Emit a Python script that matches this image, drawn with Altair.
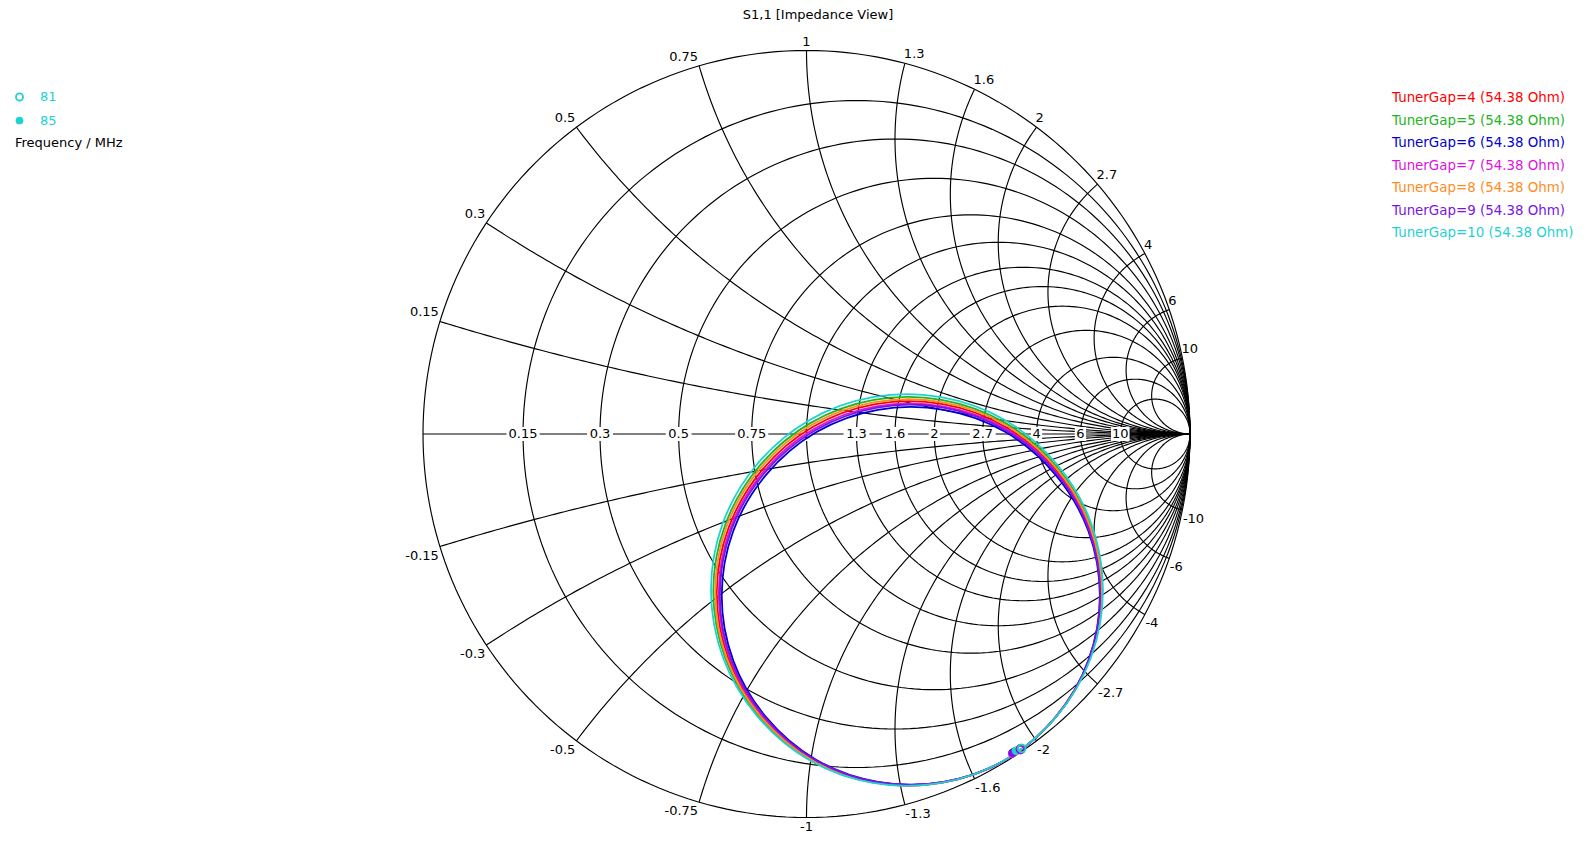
import altair as alt
import numpy as np
import pandas as pd

# ---------------- data ----------------
title_text = "S1,1 [Impedance View]"
grid_values = [0.15, 0.3, 0.5, 0.75, 1, 1.3, 1.6, 2, 2.7, 4, 6, 10]
grid_labels = ["0.15", "0.3", "0.5", "0.75", "1", "1.3", "1.6", "2", "2.7", "4", "6", "10"]

trace_names = ["TunerGap=4 (54.38 Ohm)", "TunerGap=5 (54.38 Ohm)", "TunerGap=6 (54.38 Ohm)",
               "TunerGap=7 (54.38 Ohm)", "TunerGap=8 (54.38 Ohm)", "TunerGap=9 (54.38 Ohm)",
               "TunerGap=10 (54.38 Ohm)"]
trace_colors = ["#ff0000", "#22b422", "#0000d2", "#dc14dc", "#ff8c1e", "#7814e6", "#1ed2d2"]

tg4_re = [0.768, 0.738, 0.651, 0.518, 0.355, 0.180, 0.017, -0.116, -0.203, -0.234, -0.203, -0.116, 0.017, 0.180, 0.355, 0.518, 0.651, 0.738]
tg4_im = [-0.415, -0.244, -0.094, 0.019, 0.078, 0.078, 0.019, -0.094, -0.244, -0.415, -0.587, -0.737, -0.850, -0.909, -0.909, -0.850, -0.737, -0.587]
tg5_re = [0.771, 0.740, 0.652, 0.518, 0.352, 0.176, 0.011, -0.124, -0.212, -0.243, -0.212, -0.124, 0.011, 0.176, 0.352, 0.518, 0.652, 0.740]
tg5_im = [-0.410, -0.237, -0.085, 0.029, 0.089, 0.089, 0.029, -0.085, -0.237, -0.410, -0.584, -0.736, -0.850, -0.909, -0.909, -0.850, -0.736, -0.584]
tg6_re = [0.765, 0.735, 0.649, 0.519, 0.358, 0.186, 0.026, -0.105, -0.191, -0.221, -0.191, -0.105, 0.026, 0.186, 0.358, 0.519, 0.649, 0.735]
tg6_im = [-0.422, -0.253, -0.106, 0.005, 0.063, 0.063, 0.005, -0.106, -0.253, -0.422, -0.591, -0.739, -0.850, -0.907, -0.907, -0.850, -0.739, -0.591]
tg7_re = [0.767, 0.737, 0.650, 0.519, 0.356, 0.182, 0.021, -0.112, -0.199, -0.229, -0.199, -0.112, 0.021, 0.182, 0.356, 0.519, 0.650, 0.737]
tg7_im = [-0.418, -0.247, -0.098, 0.014, 0.072, 0.072, 0.014, -0.098, -0.247, -0.418, -0.588, -0.738, -0.850, -0.908, -0.908, -0.850, -0.738, -0.588]
tg8_re = [0.770, 0.739, 0.651, 0.518, 0.354, 0.178, 0.014, -0.120, -0.208, -0.238, -0.208, -0.120, 0.014, 0.178, 0.354, 0.518, 0.651, 0.739]
tg8_im = [-0.413, -0.240, -0.089, 0.024, 0.083, 0.083, 0.024, -0.089, -0.240, -0.413, -0.585, -0.736, -0.850, -0.909, -0.909, -0.850, -0.736, -0.585]
tg9_re = [0.766, 0.736, 0.650, 0.519, 0.357, 0.184, 0.023, -0.109, -0.196, -0.226, -0.196, -0.109, 0.023, 0.184, 0.357, 0.519, 0.650, 0.736]
tg9_im = [-0.420, -0.250, -0.101, 0.010, 0.069, 0.069, 0.010, -0.101, -0.250, -0.420, -0.589, -0.738, -0.850, -0.908, -0.908, -0.850, -0.738, -0.589]
tg10_re = [0.773, 0.742, 0.653, 0.518, 0.351, 0.173, 0.007, -0.129, -0.218, -0.249, -0.218, -0.129, 0.007, 0.173, 0.351, 0.518, 0.653, 0.742]
tg10_im = [-0.407, -0.232, -0.079, 0.036, 0.096, 0.096, 0.036, -0.079, -0.232, -0.407, -0.582, -0.735, -0.850, -0.910, -0.910, -0.850, -0.735, -0.582]

trace_re = [tg4_re, tg5_re, tg6_re, tg7_re, tg8_re, tg9_re, tg10_re]
trace_im = [tg4_im, tg5_im, tg6_im, tg7_im, tg8_im, tg9_im, tg10_im]

marker_labels = ["81", "85"]
m81_re = [0.559, 0.560, 0.558, 0.558, 0.560, 0.559, 0.561]
m81_im = [-0.821, -0.820, -0.822, -0.823, -0.821, -0.822, -0.820]
m85_re = [0.540, 0.543, 0.537, 0.536, 0.542, 0.538, 0.546]
m85_im = [-0.830, -0.828, -0.832, -0.834, -0.829, -0.831, -0.826]
freq_title = "Frequency / MHz"

# ---------------- layout ----------------
W, H = 1588, 847
CX, CY, R = 806.5, 434.0, 383.5
FONT = "DejaVu Sans"
FS = 13

xsc = alt.Scale(domain=[(0 - CX) / R, (W - CX) / R], nice=False, zero=False)
ysc = alt.Scale(domain=[(CY - H) / R, CY / R], nice=False, zero=False)
X = alt.X("gx:Q", scale=xsc, axis=None)
Y = alt.Y("gy:Q", scale=ysc, axis=None)

# grid lines (built from tick values)
rows = []
gid = [0]


def add(xs, ys):
    for k, (a, b) in enumerate(zip(xs, ys)):
        rows.append((gid[0], k, float(a), float(b)))
    gid[0] += 1


t = np.linspace(0, 2 * np.pi, 241)
add(np.cos(t), np.sin(t))
add([-1, 1], [0, 0])
for r in grid_values:
    c = r / (1 + r)
    rad = 1 / (1 + r)
    add(c + rad * np.cos(t), rad * np.sin(t))
for v in grid_values:
    g0 = (1j * v - 1) / (1j * v + 1)
    phi0 = np.arctan2(g0.imag - 1 / v, g0.real - 1) % (2 * np.pi)
    ph = np.linspace(phi0, 1.5 * np.pi, 160)
    xs = 1 + np.cos(ph) / v
    ys = 1 / v + np.sin(ph) / v
    add(xs, ys)
    add(xs, -ys)
grid_df = pd.DataFrame(rows, columns=["gid", "k", "gx", "gy"])

grid = alt.Chart(grid_df).mark_line(color="black", strokeWidth=1.15).encode(
    x=X, y=Y, detail="gid:N", order="k:Q")

# real-axis labels with white boxes
ax_df = pd.DataFrame({
    "lab": grid_labels,
    "gx": [(r - 1) / (r + 1) for r in grid_values],
    "gy": [0.0] * len(grid_values),
})
ax_df["hw"] = (ax_df["lab"].str.len() * 7.3 + 4) / 2 / R
ax_df["x1"] = ax_df["gx"] - ax_df["hw"]
ax_df["x2"] = ax_df["gx"] + ax_df["hw"]
ax_df["y1"] = -7 / R
ax_df["y2"] = 7 / R
boxes = alt.Chart(ax_df).mark_rect(color="white").encode(
    x=alt.X("x1:Q", scale=xsc, axis=None), x2="x2:Q",
    y=alt.Y("y1:Q", scale=ysc, axis=None), y2="y2:Q")
ax_text = alt.Chart(ax_df).mark_text(font=FONT, fontSize=FS, color="black",
                                     align="center", baseline="middle").encode(
    x=X, y=Y, text="lab:N")

# rim labels
rim_rows = []
for v, lab in zip(grid_values, grid_labels):
    for s in (1, -1):
        g0 = (1j * s * v - 1) / (1j * s * v + 1)
        side = "c" if v == 1 else ("l" if v < 1 else "r")
        rim_rows.append((lab if s > 0 else "-" + lab, g0.real, g0.imag, side, s))
rim_df = pd.DataFrame(rim_rows, columns=["lab", "gx", "gy", "side", "sgn"])
rim_layers = []
for side, align, dxp, dxn in (("l", "right", -1, -1), ("c", "center", 0, 0), ("r", "left", -1, 0.5)):
    for sgn, base, dy, dx in ((1, "bottom", -2, dxp), (-1, "top", 3, dxn)):
        sub = rim_df[(rim_df.side == side) & (rim_df.sgn == sgn)]
        rim_layers.append(alt.Chart(sub).mark_text(
            font=FONT, fontSize=FS, color="black", align=align, baseline=base,
            dx=dx, dy=dy).encode(x=X, y=Y, text="lab:N"))

# traces
trace_layers = []
for name, col, re_, im_ in zip(trace_names, trace_colors, trace_re, trace_im):
    df = pd.DataFrame({"gx": re_, "gy": im_, "k": list(range(len(re_)))})
    trace_layers.append(alt.Chart(df).mark_line(
        color=col, strokeWidth=1.8, interpolate="cardinal-closed").encode(
        x=X, y=Y, order="k:Q"))

mk_df = pd.DataFrame({
    "col": trace_colors * 2,
    "gx": m85_re + m81_re,
    "gy": m85_im + m81_im,
    "f": ["85"] * 7 + ["81"] * 7,
})
mk_filled = alt.Chart(mk_df[mk_df.f == "85"]).mark_point(
    shape="circle", filled=True, size=70, opacity=1).encode(
    x=X, y=Y, color=alt.Color("col:N", scale=None))
mk_open = alt.Chart(mk_df[mk_df.f == "81"]).mark_point(
    shape="circle", filled=False, size=60, strokeWidth=1.8, opacity=1).encode(
    x=X, y=Y, color=alt.Color("col:N", scale=None))

# title
title = alt.Chart(pd.DataFrame({"t": [title_text]})).mark_text(
    font=FONT, fontSize=FS, color="black", align="center", baseline="middle").encode(
    x=alt.value(818), y=alt.value(15), text="t:N")

# right legend
leg_df = pd.DataFrame({"name": trace_names, "col": trace_colors,
                       "i": list(range(len(trace_names)))})
leg_df["py"] = 98 + leg_df["i"] * 22.5
legend_r = alt.Chart(leg_df).mark_text(
    font=FONT, fontSize=13.4, align="left", baseline="middle").encode(
    x=alt.value(1392), y=alt.Y("py:Q", scale=None), text="name:N",
    color=alt.Color("col:N", scale=None))

# left legend
ll_df = pd.DataFrame({"lab": marker_labels, "i": [0, 1]})
ll_df["py"] = 97 + ll_df["i"] * 23.5
ll_text = alt.Chart(ll_df).mark_text(
    font=FONT, fontSize=FS, align="left", baseline="middle", color=trace_colors[-1]).encode(
    x=alt.value(40), y=alt.Y("py:Q", scale=None), text="lab:N")
ll_open = alt.Chart(ll_df[ll_df.i == 0]).mark_point(
    shape="circle", filled=False, size=50, strokeWidth=1.8, color=trace_colors[-1], opacity=1).encode(
    x=alt.value(19.5), y=alt.Y("py:Q", scale=None))
ll_fill = alt.Chart(ll_df[ll_df.i == 1]).mark_point(
    shape="circle", filled=True, size=60, color=trace_colors[-1], opacity=1).encode(
    x=alt.value(19.5), y=alt.Y("py:Q", scale=None))
ll_title = alt.Chart(pd.DataFrame({"t": [freq_title]})).mark_text(
    font=FONT, fontSize=FS, align="left", baseline="middle", color="black").encode(
    x=alt.value(15), y=alt.value(143), text="t:N")

chart = alt.layer(
    grid, boxes, ax_text, *rim_layers, *trace_layers, mk_filled, mk_open,
    title, legend_r, ll_text, ll_open, ll_fill, ll_title
).properties(width=W, height=H, padding=0, autosize="none", background="white"
).configure_view(stroke=None)

chart.save("out.html", embed_options={"renderer": "svg", "actions": False})
